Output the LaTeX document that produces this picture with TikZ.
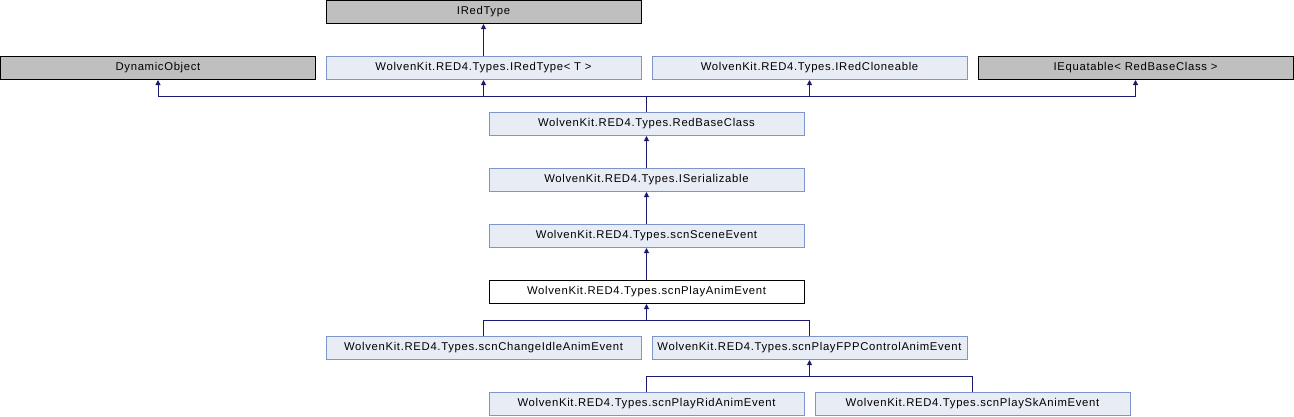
\documentclass[tikz,border=0pt]{standalone}
\usepackage{fontspec}
\setmainfont{Liberation Sans}[LetterSpace=6]
\usepackage{tikz}
\usetikzlibrary{positioning, arrows.meta}

\definecolor{edgeblue}{RGB}{25,25,112}
\definecolor{boxfill}{RGB}{232,236,244}
\definecolor{boxline}{RGB}{128,148,204}
\definecolor{greyfill}{RGB}{191,191,191}

\begin{document}
\begin{tikzpicture}[x=1pt, y=-1pt, every node/.style={font=\fontsize{11.3}{13}\selectfont},
  cls/.style={draw=boxline, fill=boxfill, line width=1pt, minimum width=315pt, minimum height=23pt, inner sep=0pt},
  ext/.style={cls, draw=black, fill=greyfill},
  cur/.style={cls, draw=black, fill=white},
  link/.style={draw=edgeblue, line width=1pt},
  inh/.style={link, -{Triangle[length=5pt, width=5pt]}}]
  \useasboundingbox (0,0) rectangle (1294,416);
  % bovenste rij
  \node[ext] (iredtype) at (483.5,12) {IRedType};
  \node[ext] (dynobj) at (158,68) {DynamicObject};
  \node[cls] (iredtypet) at (483.5,68) {WolvenKit.RED4.Types.IRedType< T >};
  \node[cls] (cloneable) at (809.5,68) {WolvenKit.RED4.Types.IRedCloneable};
  \node[ext] (equatable) at (1135.5,68) {IEquatable< RedBaseClass >};
  % midden
  \node[cls] (redbase) at (646.5,124) {WolvenKit.RED4.Types.RedBaseClass};
  \node[cls] (serial) at (646.5,180) {WolvenKit.RED4.Types.ISerializable};
  \node[cls] (scene) at (646.5,236) {WolvenKit.RED4.Types.scnSceneEvent};
  \node[cur] (playanim) at (646.5,292) {WolvenKit.RED4.Types.scnPlayAnimEvent};
  % afgeleide klassen
  \node[cls] (idle) at (483.5,348) {WolvenKit.RED4.Types.scnChangeIdleAnimEvent};
  \node[cls] (fpp) at (809.5,348) {WolvenKit.RED4.Types.scnPlayFPPControlAnimEvent};
  \node[cls] (rid) at (646.5,404) {WolvenKit.RED4.Types.scnPlayRidAnimEvent};
  \node[cls] (sk) at (972.5,404) {WolvenKit.RED4.Types.scnPlaySkAnimEvent};
  % knooppunten
  \coordinate (jbase) at (646.5,96.5);
  \coordinate (janim) at (646.5,320.5);
  \coordinate (jfpp) at (809.5,376.5);
  % pijlen
  \draw[inh] (iredtypet) -- (iredtype);
  \draw[link] (redbase.north) -- (jbase);
  \draw[inh] (jbase) -| (dynobj.south);
  \draw[inh] (jbase) -| (iredtypet.south);
  \draw[inh] (jbase) -| (cloneable.south);
  \draw[inh] (jbase) -| (equatable.south);
  \draw[inh] (serial) -- (redbase);
  \draw[inh] (scene) -- (serial);
  \draw[inh] (playanim) -- (scene);
  \draw[inh] (janim) -- (playanim.south);
  \draw[link] (idle.north) |- (janim);
  \draw[link] (fpp.north) |- (janim);
  \draw[inh] (jfpp) -- (fpp.south);
  \draw[link] (rid.north) |- (jfpp);
  \draw[link] (sk.north) |- (jfpp);
\end{tikzpicture}
\end{document}
